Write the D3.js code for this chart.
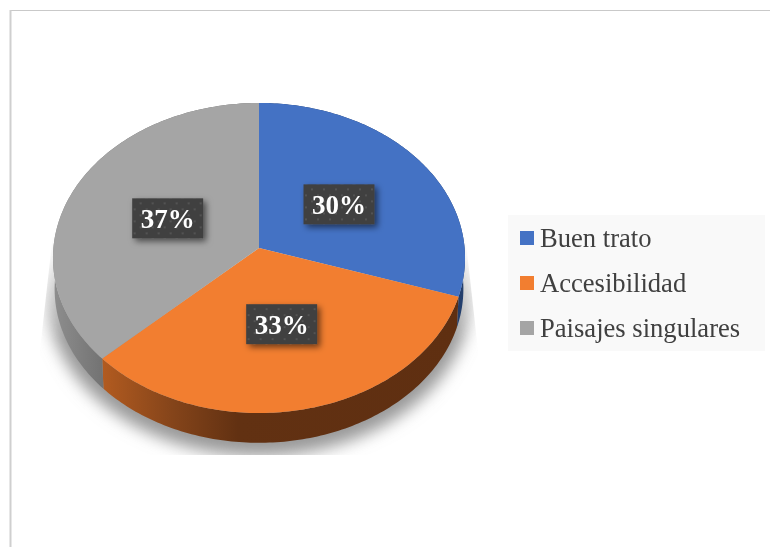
<!DOCTYPE html>
<html><head><meta charset="utf-8">
<script src="https://cdn.jsdelivr.net/npm/d3@7"></script>
<style>html,body{margin:0;padding:0;background:#fff}svg{display:block;filter:blur(0.4px)}</style>
</head><body><svg id="c" width="770" height="547"></svg>
<script>
const categories = ["Buen trato", "Accesibilidad", "Paisajes singulares"];
const values = [30, 33, 37];
const colors = ["#4472C4", "#F27E30", "#A5A5A5"];
const sideColors = ["url(#sideBlue)", "url(#sideOrange)", "url(#sideGray)"];

const svg = d3.select("#c");
const serif = "'Liberation Serif','Times New Roman',serif";

// perspective disc
const cx = 259, cy = 248, rx = 205.6, ry = 154.4, k = 0.0645, depth = 31, shrink = 0.992;
const proj = (a, f = 1, d = 0) => {
  const u = Math.sin(a) * f, v = -Math.cos(a) * f, w = 1 - k * v;
  const s = d ? shrink : 1;
  return [cx + rx * s * u / w, cy + ry * s * v / w + d + (d ? (1 - s) * 10 : 0)];
};
const arcs = d3.pie().sort(null).value(d => d)(values);
const sample = (a0, a1) => d3.range(0, 121).map(i => a0 + (a1 - a0) * i / 120);
const line = d3.line();

const defs = svg.append("defs");
const grad = (id, x1, x2, stops) => {
  const g = defs.append("linearGradient").attr("id", id).attr("gradientUnits", "userSpaceOnUse")
    .attr("x1", x1).attr("x2", x2).attr("y1", 0).attr("y2", 0);
  stops.forEach(s => g.append("stop").attr("offset", s[0]).attr("stop-color", s[1]));
};
grad("sideOrange", 102, 460, [[0, "#B25B20"], [0.2, "#84441A"], [0.38, "#623112"], [1, "#5F2F11"]]);
grad("sideGray", 53, 104, [[0, "#8E8E8E"], [1, "#727272"]]);
grad("sideBlue", 440, 466, [[0, "#1F3864"], [1, "#24406F"]]);

const fade = defs.append("linearGradient").attr("id", "fade").attr("x1", 0).attr("x2", 0).attr("y1", 0).attr("y2", 1);
[[0, 0], [0.25, 0.5], [0.5, 1], [1, 1]].forEach(s =>
  fade.append("stop").attr("offset", s[0]).attr("stop-color", "#fff").attr("stop-opacity", s[1]));
defs.append("mask").attr("id", "fadeMask").attr("maskUnits", "userSpaceOnUse")
  .attr("x", 0).attr("y", 0).attr("width", 770).attr("height", 547)
  .append("rect").attr("x", 30).attr("y", 225).attr("width", 460).attr("height", 230).attr("fill", "url(#fade)");
defs.append("clipPath").attr("id", "shadowClip").append("polygon")
  .attr("points", "54,225 40,350 40,455 478,455 478,350 464,225");
defs.append("filter").attr("id", "blurBig").attr("x", "-20%").attr("y", "-20%").attr("width", "140%").attr("height", "140%")
  .append("feGaussianBlur").attr("stdDeviation", 8);
const ds = defs.append("filter").attr("id", "boxShadow").attr("x", "-30%").attr("y", "-30%").attr("width", "170%").attr("height", "170%");
ds.append("feDropShadow").attr("dx", 3).attr("dy", 3).attr("stdDeviation", 3).attr("flood-color", "#000").attr("flood-opacity", 0.55);
const pat = defs.append("pattern").attr("id", "dots").attr("patternUnits", "userSpaceOnUse").attr("width", 12).attr("height", 12);
pat.append("rect").attr("width", 12).attr("height", 12).attr("fill", "#404040");
[[3, 3], [9, 9]].forEach(p => pat.append("circle").attr("cx", p[0]).attr("cy", p[1]).attr("r", 1.1).attr("fill", "#565656"));

// frame
svg.append("line").attr("x1", 10).attr("x2", 770).attr("y1", 10.5).attr("y2", 10.5).attr("stroke", "#c9c9c9").attr("stroke-width", 1);
svg.append("line").attr("x1", 10.5).attr("x2", 10.5).attr("y1", 10).attr("y2", 547).attr("stroke", "#cfcfcf").attr("stroke-width", 2);

// shadow
const ringPts = sample(0, 2 * Math.PI);
svg.append("g").attr("clip-path", "url(#shadowClip)").append("g").attr("mask", "url(#fadeMask)")
  .append("path").attr("d", line(ringPts.map(a => proj(a, 1.035, depth + 7))) + "Z")
  .attr("fill", "#999").attr("filter", "url(#blurBig)");

// sides
svg.append("g").selectAll("path").data(arcs).join("path")
  .attr("d", d => {
    const as = sample(d.startAngle, d.endAngle);
    return line(as.map(a => proj(a)).concat(as.slice().reverse().map(a => proj(a, 1, depth)))) + "Z";
  })
  .attr("fill", (d, i) => sideColors[i]);

// top faces
svg.append("g").selectAll("path").data(arcs).join("path")
  .attr("d", d => line([[cx, cy]].concat(sample(d.startAngle, d.endAngle).map(a => proj(a)))) + "Z")
  .attr("fill", (d, i) => colors[i]);

// data labels
const lab = svg.append("g").selectAll("g").data(arcs).join("g")
  .attr("transform", d => `translate(${proj((d.startAngle + d.endAngle) / 2, 0.49)})`);
lab.append("rect").attr("x", -35.5).attr("y", -20).attr("width", 71).attr("height", 40)
  .attr("fill", "url(#dots)").attr("filter", "url(#boxShadow)");
lab.append("text").attr("text-anchor", "middle").attr("y", 9.5)
  .attr("font-family", serif).attr("font-weight", "bold").attr("font-size", 27).attr("fill", "#fff")
  .text(d => d.value + "%");

// legend
const legend = svg.append("g");
legend.append("rect").attr("x", 508).attr("y", 215).attr("width", 257).attr("height", 136).attr("fill", "#F9F9F9");
const ly = d3.scalePoint().domain(categories).range([238, 328]);
const item = legend.selectAll("g").data(categories).join("g").attr("transform", d => `translate(520,${ly(d)})`);
item.append("rect").attr("y", -7).attr("width", 14).attr("height", 14).attr("fill", (d, i) => colors[i]);
item.append("text").attr("x", 20).attr("y", 8.5).attr("font-family", serif).attr("font-size", 26.6).attr("fill", "#404040").text(d => d);
</script></body></html>
